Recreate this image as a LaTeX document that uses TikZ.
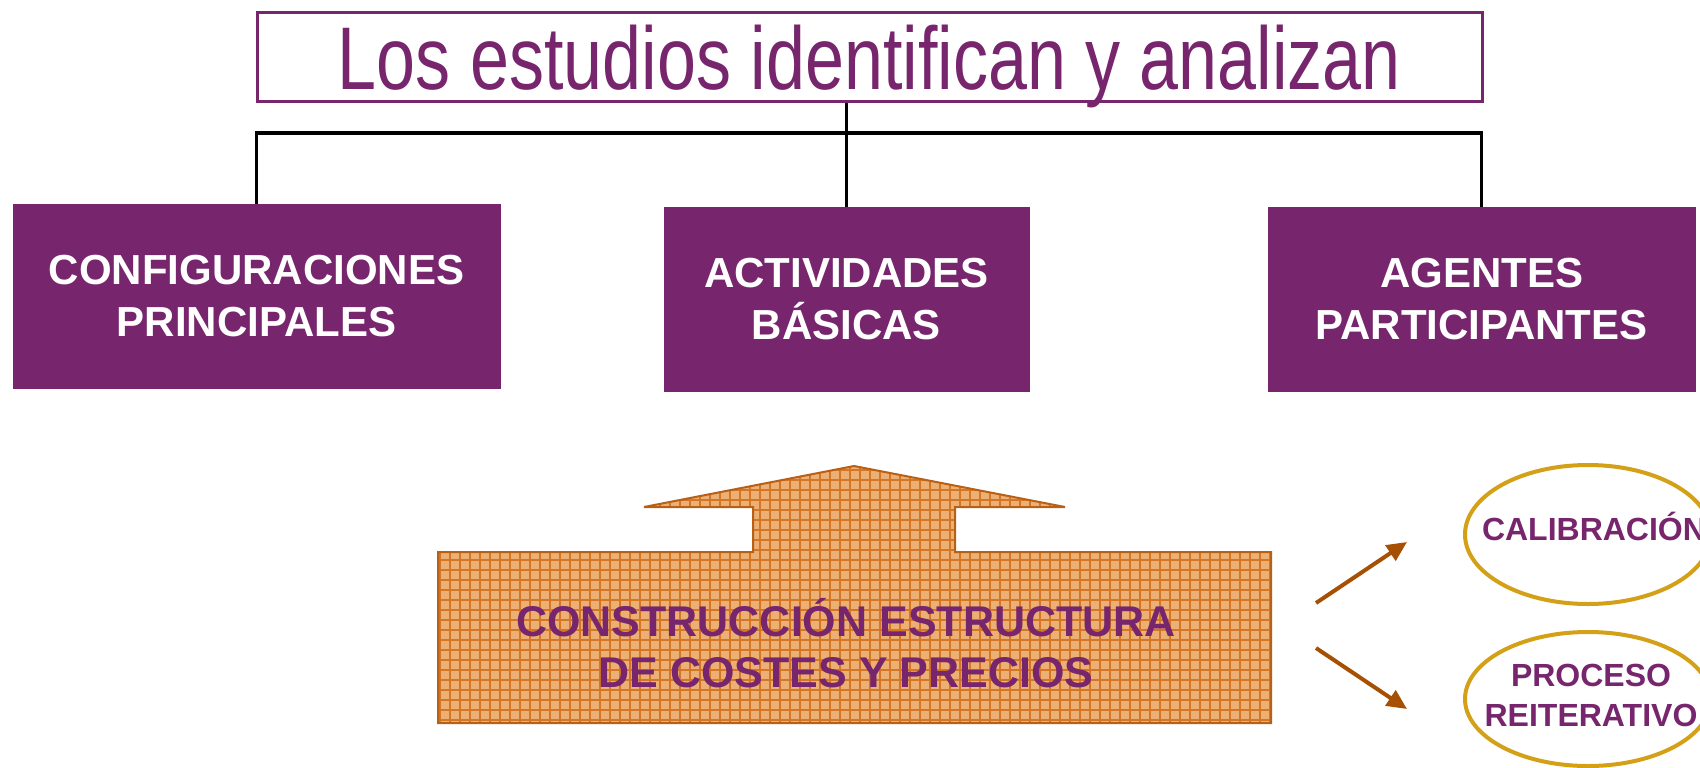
\documentclass[tikz,border=0pt]{standalone}
\usepackage{fontspec}
\setmainfont{Liberation Sans}
\usetikzlibrary{arrows.meta,shapes.geometric}
\definecolor{vio}{RGB}{119,38,110}
\definecolor{orfill}{RGB}{236,176,116}
\definecolor{orgrid}{RGB}{212,118,38}
\definecolor{oredge}{RGB}{184,96,22}
\definecolor{brarrow}{RGB}{166,80,4}
\definecolor{gold}{RGB}{212,160,23}
\tikzset{
  catbox/.style={draw=vio, fill=vio, line width=1pt, inner sep=0pt, align=center,
    text=white, font=\fontsize{42}{52}\selectfont\bfseries},
  bus/.style={draw=black, line width=3.5pt},
  ovalbox/.style={ellipse, draw=gold, line width=4pt, inner sep=0pt},
  ovaltext/.style={text=vio, font=\fontsize{32}{40}\selectfont\bfseries, align=center, inner sep=0pt},
  brarrowline/.style={draw=brarrow, line width=4pt, -{Triangle[length=20pt,width=18pt]}}
}
\begin{document}
\begin{tikzpicture}[x=1pt,y=-1pt]
\useasboundingbox (0,0) rectangle (1700,768);
\clip (0,0) rectangle (1700,768);
\fill[white] (0,0) rectangle (1700,768);

% title
\node[draw=vio, line width=3pt, minimum width=1225pt, minimum height=88pt, inner sep=0pt,
      text height=76pt, text depth=12pt, text=vio] (title) at (869.5,57)
  {\resizebox{1063pt}{\height}{\fontsize{89}{89}\selectfont Los estudios identifican y analizan}};

% category boxes
\node[catbox, minimum width=487pt, minimum height=184pt] (b1) at (256.5,296)
  {\raisebox{0pt}{CONFIGURACIONES}\\PRINCIPALES};
\node[catbox, minimum width=365pt, minimum height=184pt] (b2) at (846.5,299)
  {ACTIVIDADES\\BÁSICAS};
\node[catbox, minimum width=427pt, minimum height=184pt] (b3) at (1481.5,299)
  {AGENTES\\PARTICIPANTES};

% connectors
\coordinate (busmid) at (846.5,133);
\draw[bus] (b1.north) |- (busmid) -| (b3.north);
\draw[bus] (title.south -| b2.north) -- (b2.north);

% big up arrow shape
\def\arrowpath{(438,552) -- (753,552) -- (753,507) -- (644,507) -- (854,466) -- (1065,507)
  -- (955,507) -- (955,552) -- (1271,552) -- (1271,723) -- (438,723) -- cycle}
\fill[orfill] \arrowpath;
\begin{scope}
  \clip \arrowpath;
  \draw[orgrid, line width=1.1pt, xstep=10pt, ystep=10pt] (430,460) grid (1280,730);
\end{scope}
\draw[oredge, line width=2pt, line join=miter] \arrowpath;
\node[text=vio, font=\fontsize{43}{51}\selectfont\bfseries, align=center, inner sep=0pt]
  (cons) at (846,643) {CONSTRUCCIÓN ESTRUCTURA\\DE COSTES Y PRECIOS};

% ellipses
\node[ovalbox, minimum width=246pt, minimum height=139pt] (e1) at (1588,534.5) {};
\node[ovaltext, anchor=base] (t1) at (1594,540) {CALIBRACIÓN};
\node[ovalbox, minimum width=246pt, minimum height=134pt] (e2) at (1588,699) {};
\node[ovaltext] (t2) at (1591,695) {PROCESO\\REITERATIVO};

% small arrows
\coordinate (a1s) at (1316,603);
\coordinate (a1e) at (1407,542);
\coordinate (a2s) at (1316,648);
\coordinate (a2e) at (1407,709);
\draw[brarrowline] (a1s) -- (a1e);
\draw[brarrowline] (a2s) -- (a2e);
\end{tikzpicture}
\end{document}
